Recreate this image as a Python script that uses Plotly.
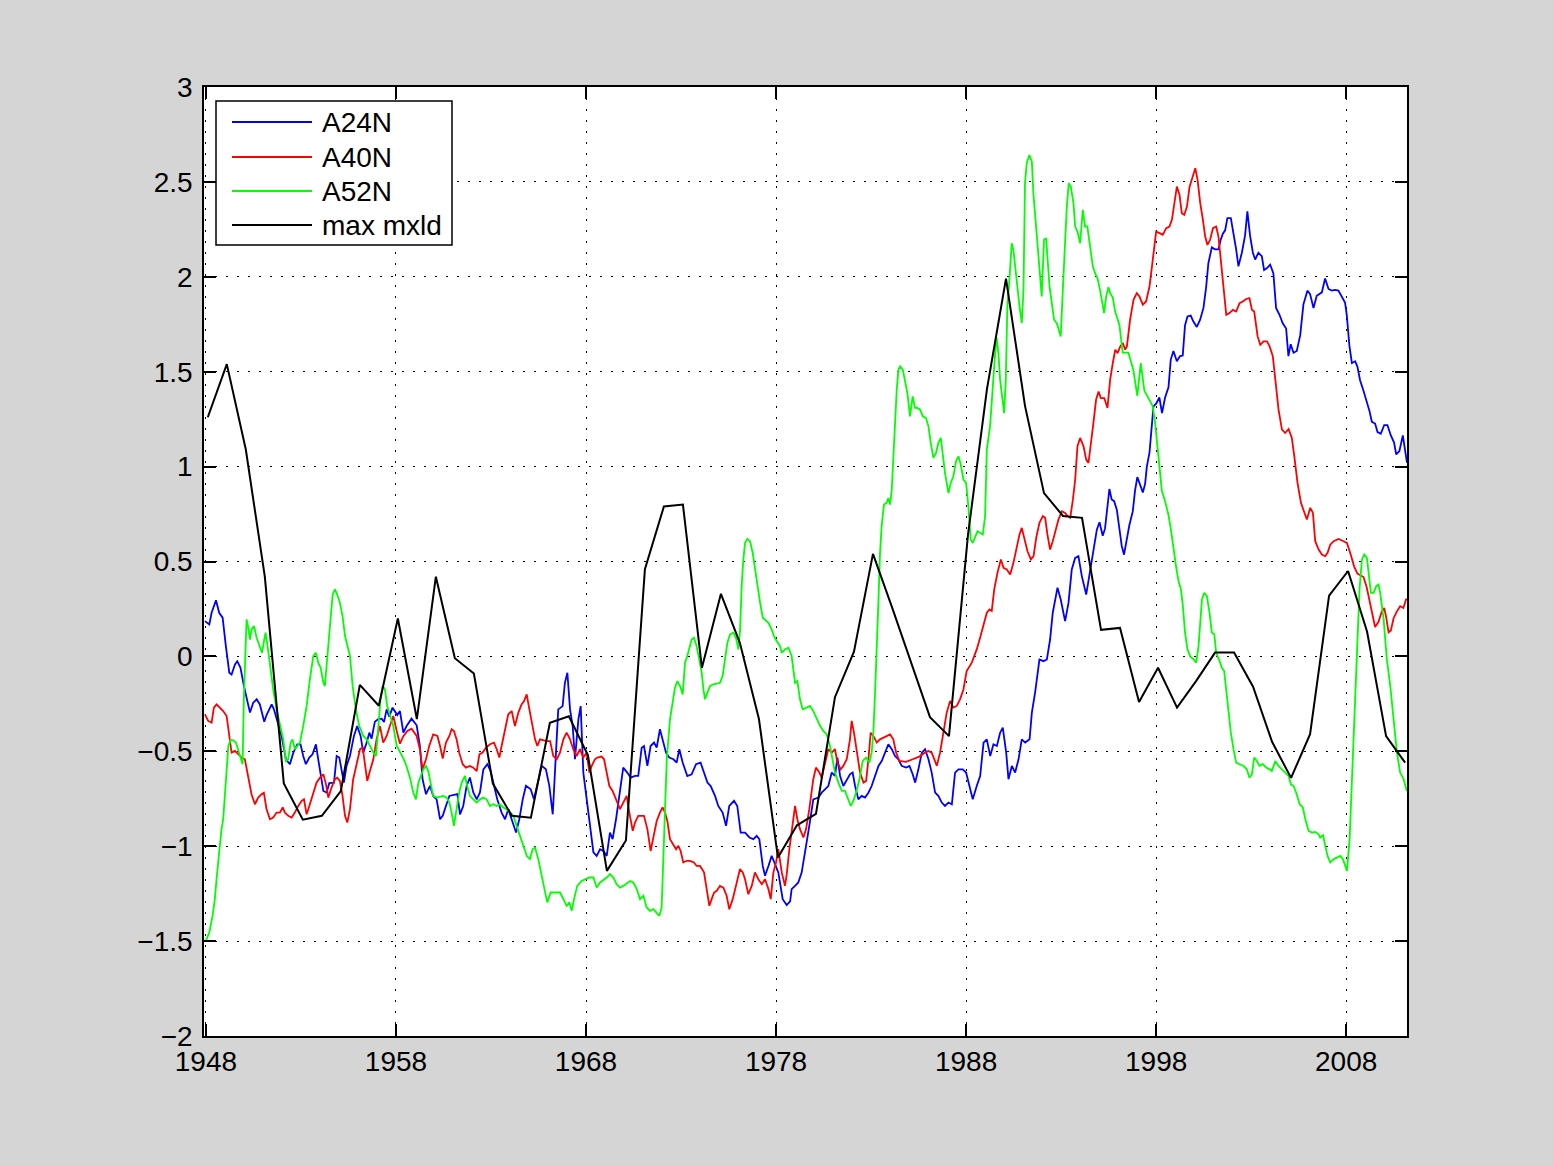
import plotly.graph_objects as go

# ---------------- data ----------------
a24n_year = [1947.95, 1948.18, 1948.30, 1948.53, 1948.70, 1948.88, 1949.05, 1949.23, 1949.35, 1949.53,
             1949.65, 1949.82, 1950.00, 1950.14, 1950.32, 1950.49, 1950.67, 1950.84, 1951.07, 1951.19,
             1951.46, 1951.58, 1951.72, 1951.98, 1952.21, 1952.42, 1952.60, 1952.81, 1952.98, 1953.12,
             1953.26, 1953.44, 1953.61, 1953.79, 1953.91, 1954.04, 1954.18, 1954.35, 1954.49, 1954.74,
             1954.88, 1955.02, 1955.14, 1955.26, 1955.40, 1955.58, 1955.79, 1955.96, 1956.14, 1956.28,
             1956.46, 1956.60, 1956.72, 1956.89, 1957.07, 1957.25, 1957.37, 1957.51, 1957.65, 1957.82,
             1958.07, 1958.21, 1958.39, 1958.56, 1958.82, 1959.09, 1959.26, 1959.40, 1959.58, 1959.79,
             1959.96, 1960.14, 1960.32, 1960.46, 1960.63, 1960.81, 1961.23, 1961.37, 1961.54, 1961.72,
             1961.89, 1962.07, 1962.25, 1962.42, 1962.60, 1962.81, 1962.98, 1963.16, 1963.33, 1963.56,
             1963.74, 1963.91, 1964.09, 1964.32, 1964.49, 1964.67, 1964.84, 1965.09, 1965.26, 1965.44,
             1965.67, 1965.89, 1966.07, 1966.25, 1966.37, 1966.54, 1966.77, 1966.89, 1967.02, 1967.16,
             1967.30, 1967.42, 1967.60, 1967.72, 1967.86, 1968.03, 1968.21, 1968.39, 1968.56, 1968.74,
             1968.91, 1969.09, 1969.26, 1969.40, 1969.58, 1969.79, 1969.96, 1970.17, 1970.35, 1970.58,
             1970.75, 1970.93, 1971.05, 1971.23, 1971.40, 1971.58, 1971.72, 1971.89, 1972.03, 1972.21,
             1972.38, 1972.60, 1972.77, 1972.91, 1973.09, 1973.33, 1973.56, 1973.79, 1974.03, 1974.21,
             1974.39, 1974.56, 1974.79, 1974.96, 1975.19, 1975.37, 1975.54, 1975.79, 1975.96, 1976.14,
             1976.37, 1976.60, 1976.81, 1976.98, 1977.12, 1977.30, 1977.42, 1977.60, 1977.77, 1977.95,
             1978.12, 1978.35, 1978.56, 1978.74, 1978.82, 1979.00, 1979.17, 1979.35, 1979.53, 1979.75,
             1979.96, 1980.23, 1980.40, 1980.58, 1980.75, 1980.93, 1981.10, 1981.23, 1981.37, 1981.54,
             1981.72, 1981.89, 1982.03, 1982.16, 1982.33, 1982.51, 1982.68, 1982.86, 1983.03, 1983.21,
             1983.39, 1983.56, 1983.74, 1983.91, 1984.09, 1984.26, 1984.44, 1984.61, 1984.84, 1985.02,
             1985.19, 1985.32, 1985.49, 1985.67, 1985.84, 1986.02, 1986.19, 1986.37, 1986.54, 1986.72,
             1986.89, 1987.07, 1987.25, 1987.42, 1987.60, 1987.82, 1988.00, 1988.21, 1988.35, 1988.56,
             1988.74, 1988.92, 1989.09, 1989.27, 1989.44, 1989.62, 1989.79, 1989.93, 1990.11, 1990.23,
             1990.41, 1990.58, 1990.76, 1990.93, 1991.11, 1991.34, 1991.46, 1991.63, 1991.86, 1992.07,
             1992.25, 1992.42, 1992.56, 1992.81, 1992.98, 1993.21, 1993.39, 1993.56, 1993.74, 1993.91,
             1994.09, 1994.32, 1994.49, 1994.70, 1994.88, 1995.02, 1995.19, 1995.31, 1995.44, 1995.54,
             1995.66, 1995.79, 1995.93, 1996.07, 1996.19, 1996.31, 1996.45, 1996.59, 1996.77, 1996.89,
             1997.01, 1997.16, 1997.30, 1997.42, 1997.51, 1997.65, 1997.77, 1997.86, 1998.00, 1998.17,
             1998.31, 1998.47, 1998.65, 1998.77, 1998.91, 1999.09, 1999.26, 1999.40, 1999.52, 1999.65,
             1999.82, 1999.96, 2000.14, 2000.31, 2000.49, 2000.63, 2000.75, 2000.93, 2001.10, 2001.28,
             2001.40, 2001.51, 2001.63, 2001.75, 2001.93, 2002.07, 2002.21, 2002.33, 2002.51, 2002.68,
             2002.80, 2002.94, 2003.09, 2003.21, 2003.38, 2003.56, 2003.68, 2003.82, 2004.00, 2004.17,
             2004.31, 2004.49, 2004.66, 2004.84, 2004.96, 2005.08, 2005.23, 2005.40, 2005.58, 2005.75,
             2005.96, 2006.10, 2006.28, 2006.45, 2006.72, 2006.89, 2007.07, 2007.24, 2007.42, 2007.59,
             2007.77, 2007.94, 2008.03, 2008.17, 2008.30, 2008.47, 2008.59, 2008.73, 2008.91, 2009.08,
             2009.23, 2009.35, 2009.52, 2009.65, 2009.82, 2010.00, 2010.17, 2010.35, 2010.52, 2010.63,
             2010.80, 2010.98, 2011.15, 2011.20]
a24n_val = [0.186, 0.168, 0.23, 0.296, 0.23, 0.204, 0.054, -0.086, -0.095, -0.042,
            -0.025, -0.06, -0.156, -0.217, -0.296, -0.244, -0.226, -0.253, -0.344, -0.309,
            -0.253, -0.279, -0.332, -0.419, -0.542, -0.568, -0.507, -0.463, -0.463, -0.525,
            -0.568, -0.533, -0.516, -0.463, -0.542, -0.612, -0.709, -0.717, -0.668, -0.665,
            -0.525, -0.533, -0.612, -0.665, -0.577, -0.525, -0.419, -0.367, -0.419, -0.507,
            -0.454, -0.402, -0.433, -0.344, -0.33, -0.328, -0.346, -0.279, -0.317, -0.27,
            -0.309, -0.288, -0.402, -0.367, -0.328, -0.363, -0.472, -0.647, -0.726, -0.682,
            -0.735, -0.753, -0.858, -0.84, -0.788, -0.735, -0.726, -0.832, -0.788, -0.682,
            -0.638, -0.717, -0.753, -0.717, -0.595, -0.568, -0.604, -0.682, -0.753, -0.823,
            -0.858, -0.805, -0.858, -0.928, -0.858, -0.753, -0.682, -0.70, -0.753, -0.682,
            -0.577, -0.595, -0.682, -0.832, -0.63, -0.279, -0.262, -0.139, -0.086, -0.279,
            -0.367, -0.542, -0.332, -0.262, -0.612, -0.753, -0.88, -1.033, -1.051, -1.016,
            -1.025, -1.051, -0.928, -0.963, -0.858, -0.718, -0.586, -0.612, -0.639, -0.63,
            -0.63, -0.481, -0.472, -0.577, -0.472, -0.454, -0.481, -0.384, -0.437, -0.507,
            -0.533, -0.542, -0.56, -0.489, -0.56, -0.63, -0.621, -0.568, -0.56, -0.612,
            -0.665, -0.683, -0.735, -0.788, -0.823, -0.893, -0.788, -0.761, -0.788, -0.928,
            -0.928, -0.954, -0.963, -0.946, -0.963, -1.104, -1.156, -1.104, -1.051, -1.095,
            -1.138, -1.279, -1.31, -1.29, -1.226, -1.209, -1.191, -1.138, -1.016, -0.893,
            -0.753, -0.744, -0.718, -0.70, -0.683, -0.612, -0.63, -0.533, -0.63, -0.683,
            -0.647, -0.621, -0.612, -0.683, -0.753, -0.735, -0.744, -0.718, -0.683, -0.63,
            -0.577, -0.551, -0.507, -0.463, -0.489, -0.525, -0.542, -0.577, -0.586, -0.577,
            -0.621, -0.665, -0.595, -0.507, -0.489, -0.542, -0.612, -0.718, -0.735, -0.77,
            -0.788, -0.77, -0.779, -0.612, -0.595, -0.595, -0.612, -0.70, -0.753, -0.683,
            -0.63, -0.454, -0.437, -0.525, -0.463, -0.472, -0.402, -0.375, -0.507, -0.647,
            -0.577, -0.612, -0.542, -0.437, -0.454, -0.437, -0.296, -0.191, -0.016, -0.025,
            -0.016, 0.089, 0.23, 0.362, 0.30, 0.186, 0.283, 0.458, 0.519, 0.528,
            0.423, 0.326, 0.423, 0.554, 0.668, 0.707, 0.636, 0.673, 0.80, 0.882,
            0.827, 0.818, 0.773, 0.673, 0.582, 0.536, 0.618, 0.691, 0.764, 0.873,
            0.945, 0.90, 0.864, 0.909, 1.0, 1.073, 1.218, 1.318, 1.331, 1.364,
            1.282, 1.364, 1.418, 1.564, 1.609, 1.555, 1.582, 1.585, 1.745, 1.791,
            1.796, 1.764, 1.736, 1.773, 1.836, 1.945, 2.073, 2.155, 2.145, 2.145,
            2.196, 2.227, 2.245, 2.309, 2.309, 2.236, 2.145, 2.055, 2.127, 2.218,
            2.345, 2.218, 2.127, 2.091, 2.127, 2.109, 2.036, 2.045, 2.064, 2.018,
            1.836, 1.80, 1.755, 1.727, 1.582, 1.645, 1.60, 1.609, 1.691, 1.855,
            1.927, 1.909, 1.836, 1.90, 1.918, 1.991, 1.936, 1.927, 1.931, 1.927,
            1.891, 1.864, 1.80, 1.636, 1.545, 1.555, 1.527, 1.455, 1.40, 1.345,
            1.291, 1.236, 1.227, 1.182, 1.173, 1.218, 1.218, 1.164, 1.127, 1.064,
            1.082, 1.164, 1.036, 1.02]

a40n_year = [1947.95, 1948.12, 1948.30, 1948.42, 1948.56, 1948.74, 1948.91, 1949.09, 1949.23, 1949.35,
             1949.53, 1949.70, 1949.88, 1950.05, 1950.23, 1950.40, 1950.58, 1950.75, 1950.93, 1951.05,
             1951.19, 1951.37, 1951.54, 1951.72, 1951.89, 1952.04, 1952.16, 1952.33, 1952.51, 1952.68,
             1952.86, 1953.04, 1953.16, 1953.30, 1953.47, 1953.65, 1953.82, 1954.00, 1954.18, 1954.32,
             1954.44, 1954.61, 1954.79, 1954.91, 1955.05, 1955.19, 1955.32, 1955.44, 1955.58, 1955.75,
             1955.93, 1956.11, 1956.25, 1956.37, 1956.49, 1956.63, 1956.81, 1956.98, 1957.16, 1957.33,
             1957.51, 1957.68, 1957.86, 1958.04, 1958.21, 1958.39, 1958.60, 1958.82, 1959.09, 1959.26,
             1959.40, 1959.58, 1959.75, 1959.96, 1960.18, 1960.32, 1960.46, 1960.63, 1960.81, 1960.93,
             1961.05, 1961.19, 1961.33, 1961.51, 1961.68, 1961.89, 1962.07, 1962.25, 1962.39, 1962.56,
             1962.74, 1962.95, 1963.16, 1963.30, 1963.44, 1963.56, 1963.74, 1963.91, 1964.09, 1964.26,
             1964.44, 1964.61, 1964.74, 1964.88, 1965.02, 1965.19, 1965.32, 1965.44, 1965.58, 1965.93,
             1966.11, 1966.28, 1966.46, 1966.63, 1966.81, 1966.98, 1967.16, 1967.33, 1967.51, 1967.68,
             1967.86, 1968.03, 1968.18, 1968.30, 1968.47, 1968.60, 1968.82, 1968.95, 1969.09, 1969.23,
             1969.40, 1969.58, 1969.79, 1969.96, 1970.14, 1970.28, 1970.46, 1970.58, 1970.75, 1971.05,
             1971.23, 1971.40, 1971.54, 1971.72, 1971.89, 1972.03, 1972.16, 1972.28, 1972.42, 1972.60,
             1972.74, 1972.86, 1972.98, 1973.12, 1973.30, 1973.47, 1973.68, 1973.82, 1974.00, 1974.21,
             1974.35, 1974.49, 1974.61, 1974.74, 1974.88, 1975.05, 1975.23, 1975.40, 1975.54, 1975.72,
             1975.89, 1976.10, 1976.25, 1976.37, 1976.54, 1976.72, 1976.89, 1977.07, 1977.25, 1977.42,
             1977.60, 1977.72, 1977.86, 1978.00, 1978.12, 1978.30, 1978.47, 1978.56, 1978.70, 1978.82,
             1979.00, 1979.12, 1979.26, 1979.44, 1979.58, 1979.75, 1979.96, 1980.10, 1980.28, 1980.40,
             1980.58, 1980.75, 1980.93, 1981.10, 1981.23, 1981.40, 1981.54, 1981.72, 1981.89, 1981.98,
             1982.10, 1982.25, 1982.42, 1982.60, 1982.74, 1982.86, 1982.98, 1983.12, 1983.30, 1983.47,
             1983.82, 1984.00, 1984.17, 1984.32, 1984.49, 1984.84, 1985.19, 1985.54, 1985.84, 1986.02,
             1986.19, 1986.32, 1986.46, 1986.63, 1986.81, 1986.98, 1987.16, 1987.33, 1987.51, 1987.68,
             1987.86, 1988.03, 1988.30, 1988.56, 1988.74, 1988.92, 1989.09, 1989.23, 1989.35, 1989.48,
             1989.65, 1989.83, 1989.97, 1990.14, 1990.32, 1990.49, 1990.67, 1990.81, 1990.93, 1991.06,
             1991.23, 1991.41, 1991.55, 1991.69, 1991.86, 1992.04, 1992.16, 1992.28, 1992.42, 1992.56,
             1992.74, 1992.86, 1993.04, 1993.21, 1993.34, 1993.48, 1993.62, 1993.74, 1993.86, 1994.00,
             1994.18, 1994.32, 1994.44, 1994.56, 1994.70, 1994.84, 1994.97, 1995.09, 1995.27, 1995.44,
             1995.58, 1995.72, 1995.85, 1995.97, 1996.11, 1996.25, 1996.37, 1996.46, 1996.63, 1996.81,
             1996.98, 1997.12, 1997.30, 1997.47, 1997.65, 1997.77, 1997.90, 1998.00, 1998.18, 1998.35,
             1998.53, 1998.70, 1998.83, 1998.95, 1999.09, 1999.23, 1999.35, 1999.48, 1999.62, 1999.76,
             1999.93, 2000.06, 2000.18, 2000.32, 2000.46, 2000.58, 2000.70, 2000.84, 2000.99, 2001.16,
             2001.28, 2001.41, 2001.55, 2001.69, 2001.86, 2002.04, 2002.21, 2002.39, 2002.56, 2002.74,
             2002.91, 2003.04, 2003.16, 2003.34, 2003.48, 2003.65, 2003.83, 2003.97, 2004.14, 2004.27,
             2004.44, 2004.62, 2004.79, 2004.97, 2005.14, 2005.27, 2005.44, 2005.62, 2005.79, 2005.93,
             2006.11, 2006.25, 2006.37, 2006.55, 2006.72, 2006.90, 2007.02, 2007.16, 2007.34, 2007.60,
             2007.86, 2008.04, 2008.24, 2008.42, 2008.59, 2008.91, 2009.08, 2009.26, 2009.40, 2009.52,
             2009.70, 2009.87, 2010.00, 2010.10, 2010.23, 2010.35, 2010.49, 2010.66, 2010.84, 2011.01,
             2011.15, 2011.20]
a40n_val = [-0.305, -0.34, -0.349, -0.27, -0.253, -0.27, -0.288, -0.314, -0.419, -0.507,
            -0.498, -0.516, -0.533, -0.542, -0.63, -0.726, -0.779, -0.744, -0.726, -0.718,
            -0.805, -0.858, -0.849, -0.823, -0.823, -0.796, -0.823, -0.84, -0.849, -0.823,
            -0.788, -0.761, -0.753, -0.832, -0.779, -0.718, -0.665, -0.639, -0.621, -0.674,
            -0.744, -0.691, -0.647, -0.639, -0.656, -0.735, -0.84, -0.875, -0.805, -0.647,
            -0.56, -0.489, -0.481, -0.577, -0.656, -0.604, -0.542, -0.437, -0.367, -0.454,
            -0.419, -0.367, -0.314, -0.393, -0.46, -0.42, -0.393, -0.381, -0.419, -0.489,
            -0.595, -0.542, -0.472, -0.411, -0.419, -0.472, -0.538, -0.454, -0.419, -0.384,
            -0.393, -0.437, -0.507, -0.568, -0.586, -0.577, -0.586, -0.604, -0.516, -0.507,
            -0.481, -0.463, -0.454, -0.489, -0.533, -0.472, -0.384, -0.305, -0.288, -0.367,
            -0.296, -0.253, -0.235, -0.20, -0.279, -0.367, -0.437, -0.472, -0.437, -0.446,
            -0.446, -0.525, -0.542, -0.507, -0.437, -0.402, -0.437, -0.489, -0.525, -0.489,
            -0.533, -0.507, -0.612, -0.577, -0.542, -0.533, -0.528, -0.542, -0.612, -0.683,
            -0.709, -0.753, -0.805, -0.77, -0.735, -0.823, -0.919, -0.875, -0.84, -0.84,
            -0.91, -1.025, -0.963, -0.867, -0.823, -0.796, -0.823, -0.867, -0.963, -0.989,
            -1.016, -0.998, -1.025, -1.086, -1.077, -1.077, -1.086, -1.104, -1.104, -1.138,
            -1.226, -1.314, -1.279, -1.244, -1.235, -1.209, -1.218, -1.261, -1.332, -1.279,
            -1.209, -1.121, -1.138, -1.174, -1.253, -1.209, -1.138, -1.174, -1.20, -1.174,
            -1.226, -1.279, -1.138, -1.086, -1.016, -1.138, -1.209, -1.15, -1.016, -0.928,
            -0.788, -0.858, -0.91, -0.954, -0.91, -0.805, -0.647, -0.586, -0.612, -0.639,
            -0.56, -0.489, -0.507, -0.489, -0.56, -0.595, -0.577, -0.542, -0.437, -0.34,
            -0.402, -0.507, -0.612, -0.665, -0.656, -0.542, -0.402, -0.419, -0.454, -0.437,
            -0.419, -0.411, -0.437, -0.507, -0.551, -0.556, -0.542, -0.528, -0.507, -0.498,
            -0.507, -0.542, -0.577, -0.507, -0.402, -0.296, -0.235, -0.27, -0.261, -0.226,
            -0.174, -0.077, -0.033, 0.037, 0.10, 0.16, 0.23, 0.247, 0.239, 0.353,
            0.44, 0.511, 0.467, 0.458, 0.432, 0.493, 0.581, 0.642, 0.677, 0.616,
            0.554, 0.511, 0.528, 0.625, 0.704, 0.739, 0.73, 0.642, 0.563, 0.607,
            0.686, 0.721, 0.765, 0.756, 0.739, 0.73, 0.826, 0.932, 1.107, 1.151,
            1.107, 1.037, 1.019, 1.107, 1.23, 1.353, 1.396, 1.361, 1.361, 1.309,
            1.458, 1.546, 1.616, 1.598, 1.633, 1.651, 1.616, 1.633, 1.774, 1.879,
            1.914, 1.896, 1.853, 1.87, 1.949, 2.046, 2.177, 2.238, 2.23, 2.221,
            2.256, 2.265, 2.30, 2.37, 2.475, 2.432, 2.335, 2.326, 2.37, 2.475,
            2.537, 2.572, 2.511, 2.388, 2.30, 2.212, 2.168, 2.195, 2.256, 2.265,
            2.212, 2.072, 1.914, 1.80, 1.809, 1.826, 1.817, 1.861, 1.87, 1.883,
            1.888, 1.826, 1.817, 1.686, 1.642, 1.66, 1.66, 1.633, 1.581, 1.458,
            1.30, 1.195, 1.177, 1.198, 1.151, 1.054, 0.914, 0.809, 0.756, 0.721,
            0.783, 0.756, 0.607, 0.563, 0.537, 0.528, 0.546, 0.589, 0.607, 0.619,
            0.607, 0.598, 0.536, 0.473, 0.436, 0.418, 0.364, 0.273, 0.20, 0.155,
            0.182, 0.236, 0.255, 0.209, 0.127, 0.136, 0.20, 0.236, 0.264, 0.255,
            0.30, 0.30]

a52n_year = [1948.00, 1948.18, 1948.35, 1948.47, 1948.56, 1948.65, 1948.74, 1948.82, 1948.91, 1949.00,
             1949.09, 1949.18, 1949.30, 1949.44, 1949.58, 1949.70, 1949.82, 1949.93, 1950.00, 1950.07,
             1950.14, 1950.23, 1950.32, 1950.40, 1950.53, 1950.67, 1950.81, 1950.95, 1951.07, 1951.14,
             1951.28, 1951.40, 1951.54, 1951.72, 1951.89, 1952.07, 1952.21, 1952.33, 1952.46, 1952.56,
             1952.68, 1952.81, 1952.95, 1953.12, 1953.30, 1953.47, 1953.65, 1953.79, 1953.91, 1954.04,
             1954.18, 1954.26, 1954.39, 1954.53, 1954.67, 1954.79, 1954.91, 1955.05, 1955.19, 1955.32,
             1955.44, 1955.58, 1955.72, 1955.89, 1956.07, 1956.28, 1956.46, 1956.63, 1956.81, 1956.95,
             1957.07, 1957.19, 1957.30, 1957.42, 1957.54, 1957.68, 1957.86, 1958.04, 1958.21, 1958.39,
             1958.56, 1958.74, 1958.91, 1959.05, 1959.18, 1959.30, 1959.44, 1959.58, 1959.70, 1959.82,
             1959.96, 1960.14, 1960.49, 1960.67, 1960.81, 1960.93, 1961.05, 1961.19, 1961.33, 1961.46,
             1961.63, 1961.75, 1961.89, 1962.07, 1962.25, 1962.42, 1962.60, 1962.77, 1962.95, 1963.12,
             1963.30, 1963.47, 1963.65, 1963.82, 1964.00, 1964.18, 1964.35, 1964.53, 1964.70, 1964.88,
             1965.05, 1965.19, 1965.32, 1965.49, 1965.67, 1965.84, 1965.96, 1966.14, 1966.37, 1966.63,
             1966.81, 1966.98, 1967.12, 1967.25, 1967.37, 1967.54, 1967.77, 1968.00, 1968.18, 1968.39,
             1968.56, 1968.74, 1969.09, 1969.26, 1969.44, 1969.61, 1969.79, 1969.96, 1970.32, 1970.49,
             1970.67, 1970.84, 1971.02, 1971.19, 1971.37, 1971.54, 1971.72, 1971.86, 1971.98, 1972.07,
             1972.16, 1972.25, 1972.42, 1972.56, 1972.68, 1972.81, 1972.95, 1973.09, 1973.21, 1973.33,
             1973.47, 1973.56, 1973.68, 1973.82, 1973.96, 1974.09, 1974.18, 1974.26, 1974.39, 1974.53,
             1974.70, 1975.05, 1975.19, 1975.32, 1975.44, 1975.58, 1975.75, 1975.89, 1976.02, 1976.11,
             1976.19, 1976.28, 1976.37, 1976.49, 1976.63, 1976.77, 1976.89, 1977.02, 1977.16, 1977.30,
             1977.42, 1977.60, 1977.77, 1977.89, 1978.03, 1978.21, 1978.30, 1978.47, 1978.65, 1978.82,
             1979.00, 1979.12, 1979.26, 1979.40, 1979.61, 1979.79, 1979.96, 1980.14, 1980.32, 1980.49,
             1980.67, 1980.84, 1980.98, 1981.10, 1981.28, 1981.46, 1981.63, 1981.81, 1981.93, 1982.07,
             1982.21, 1982.39, 1982.56, 1982.74, 1982.91, 1983.03, 1983.12, 1983.21, 1983.30, 1983.39,
             1983.47, 1983.56, 1983.68, 1983.82, 1983.91, 1984.00, 1984.09, 1984.17, 1984.26, 1984.35,
             1984.44, 1984.53, 1984.67, 1984.79, 1984.91, 1985.05, 1985.19, 1985.31, 1985.44, 1985.58,
             1985.72, 1985.89, 1986.02, 1986.14, 1986.28, 1986.42, 1986.54, 1986.67, 1986.77, 1986.89,
             1987.07, 1987.19, 1987.33, 1987.47, 1987.60, 1987.72, 1987.86, 1988.00, 1988.12, 1988.24,
             1988.35, 1988.47, 1988.60, 1988.74, 1988.88, 1989.00, 1989.09, 1989.26, 1989.40, 1989.53,
             1989.61, 1989.70, 1989.79, 1989.93, 1990.00, 1990.09, 1990.17, 1990.28, 1990.40, 1990.49,
             1990.58, 1990.67, 1990.81, 1990.93, 1991.02, 1991.10, 1991.19, 1991.33, 1991.46, 1991.54,
             1991.68, 1991.81, 1991.98, 1992.10, 1992.21, 1992.28, 1992.39, 1992.51, 1992.63, 1992.77,
             1992.91, 1992.98, 1993.09, 1993.21, 1993.30, 1993.40, 1993.51, 1993.65, 1993.74, 1993.86,
             1994.00, 1994.14, 1994.26, 1994.38, 1994.53, 1994.67, 1994.79, 1994.91, 1995.05, 1995.19,
             1995.26, 1995.37, 1995.49, 1995.58, 1995.72, 1995.84, 1996.07, 1996.24, 1996.54, 1996.80,
             1997.01, 1997.19, 1997.38, 1997.68, 1997.82, 1997.94, 1998.07, 1998.17, 1998.30, 1998.47,
             1998.65, 1998.77, 1998.91, 1999.05, 1999.17, 1999.30, 1999.40, 1999.52, 1999.65, 1999.79,
             1999.97, 2000.11, 2000.23, 2000.32, 2000.41, 2000.53, 2000.67, 2000.81, 2000.93, 2001.06,
             2001.16, 2001.34, 2001.46, 2001.58, 2001.69, 2001.81, 2001.93, 2002.07, 2002.21, 2002.39,
             2002.60, 2002.77, 2002.91, 2003.04, 2003.16, 2003.30, 2003.44, 2003.62, 2003.79, 2003.97,
             2004.09, 2004.27, 2004.44, 2004.62, 2004.79, 2004.97, 2005.09, 2005.23, 2005.37, 2005.55,
             2005.72, 2005.85, 2006.02, 2006.20, 2006.37, 2006.55, 2006.63, 2006.78, 2006.90, 2007.02,
             2007.16, 2007.34, 2007.51, 2007.69, 2007.83, 2007.95, 2008.04, 2008.18, 2008.30, 2008.42,
             2008.56, 2008.70, 2008.83, 2008.95, 2009.09, 2009.18, 2009.30, 2009.44, 2009.58, 2009.70,
             2009.79, 2009.97, 2010.14, 2010.32, 2010.49, 2010.67, 2010.84, 2011.02, 2011.19]
a52n_val = [-1.498, -1.454, -1.367, -1.279, -1.174, -1.086, -0.98, -0.911, -0.858, -0.735,
            -0.577, -0.472, -0.44, -0.442, -0.454, -0.489, -0.525, -0.568, -0.209, 0.054,
            0.195, 0.151, 0.089, 0.142, 0.16, 0.098, 0.054, 0.019, 0.089, 0.125,
            0.028, -0.068, -0.174, -0.279, -0.349, -0.437, -0.551, -0.542, -0.454, -0.437,
            -0.489, -0.472, -0.454, -0.367, -0.261, -0.121, 0.002, 0.019, -0.033, -0.06,
            -0.139, -0.156, 0.002, 0.195, 0.326, 0.353, 0.326, 0.283, 0.212, 0.107,
            0.054, 0.002, -0.156, -0.279, -0.367, -0.419, -0.437, -0.472, -0.507, -0.525,
            -0.349, -0.226, -0.156, -0.174, -0.261, -0.314, -0.367, -0.472, -0.50, -0.537,
            -0.58, -0.64, -0.717, -0.753, -0.665, -0.63, -0.595, -0.577, -0.604, -0.665,
            -0.735, -0.744, -0.735, -0.744, -0.77, -0.823, -0.893, -0.805, -0.717, -0.665,
            -0.63, -0.683, -0.735, -0.753, -0.77, -0.753, -0.744, -0.753, -0.788, -0.779,
            -0.788, -0.779, -0.796, -0.805, -0.823, -0.84, -0.893, -0.946, -1.007, -1.051,
            -1.068, -1.016, -1.007, -1.068, -1.156, -1.244, -1.296, -1.244, -1.244, -1.244,
            -1.279, -1.314, -1.296, -1.34, -1.279, -1.209, -1.183, -1.174, -1.165, -1.165,
            -1.218, -1.191, -1.165, -1.147, -1.165, -1.20, -1.218, -1.209, -1.183, -1.191,
            -1.226, -1.279, -1.261, -1.323, -1.341, -1.332, -1.349, -1.367, -1.323, -1.033,
            -0.77, -0.542, -0.332, -0.226, -0.165, -0.13, -0.156, -0.20, -0.033, 0.002,
            0.054, 0.089, 0.098, 0.054, -0.016, -0.086, -0.174, -0.226, -0.191, -0.156,
            -0.147, -0.139, -0.103, -0.016, 0.072, 0.116, 0.125, 0.098, 0.037, 0.142,
            0.37, 0.511, 0.598, 0.619, 0.607, 0.546, 0.458, 0.37, 0.283, 0.204,
            0.195, 0.177, 0.142, 0.107, 0.081, 0.054, 0.019, 0.037, 0.046, 0.002,
            -0.139, -0.13, -0.226, -0.279, -0.27, -0.261, -0.288, -0.332, -0.367, -0.393,
            -0.411, -0.472, -0.542, -0.612, -0.665, -0.709, -0.709, -0.753, -0.788, -0.761,
            -0.718, -0.647, -0.551, -0.533, -0.56, -0.507, -0.402, -0.191, 0.02, 0.30,
            0.54, 0.69, 0.80, 0.809, 0.835, 0.80, 0.879, 1.054, 1.23, 1.405,
            1.511, 1.528, 1.511, 1.458, 1.388, 1.265, 1.37, 1.309, 1.309, 1.30,
            1.265, 1.256, 1.212, 1.125, 1.046, 1.072, 1.125, 1.151, 1.072, 0.967,
            0.861, 0.914, 0.949, 1.028, 1.054, 1.011, 0.932, 0.914, 0.791, 0.616,
            0.598, 0.633, 0.659, 0.651, 0.642, 0.739, 1.089, 1.212, 1.423, 1.598,
            1.677, 1.598, 1.458, 1.335, 1.282, 1.458, 1.844, 1.984, 2.177, 2.142,
            2.054, 1.967, 1.844, 1.756, 1.932, 2.493, 2.598, 2.642, 2.607, 2.44,
            2.282, 2.107, 1.896, 2.195, 2.204, 2.089, 1.949, 1.861, 1.774, 1.756,
            1.704, 1.686, 1.932, 2.23, 2.37, 2.493, 2.475, 2.388, 2.265, 2.238,
            2.177, 2.353, 2.265, 2.265, 2.16, 2.054, 2.019, 1.993, 1.93, 1.861,
            1.809, 1.896, 1.945, 1.914, 1.891, 1.818, 1.745, 1.60, 1.60, 1.509,
            1.373, 1.545, 1.40, 1.345, 1.318, 1.236, 1.091, 0.982, 0.873, 0.818,
            0.745, 0.673, 0.564, 0.473, 0.40, 0.355, 0.273, 0.127, 0.036, 0.0,
            -0.016, -0.033, 0.054, 0.195, 0.30, 0.335, 0.317, 0.23, 0.125, 0.116,
            0.019, -0.025, -0.06, -0.077, -0.174, -0.296, -0.402, -0.489, -0.56, -0.568,
            -0.577, -0.595, -0.639, -0.621, -0.533, -0.551, -0.577, -0.568, -0.586, -0.595,
            -0.604, -0.551, -0.577, -0.595, -0.612, -0.63, -0.674, -0.683, -0.718, -0.779,
            -0.796, -0.858, -0.919, -0.928, -0.925, -0.937, -0.954, -0.942, -0.998, -1.051,
            -1.086, -1.068, -1.06, -1.051, -1.068, -1.104, -1.13, -0.963, -0.647, -0.296,
            0.054, 0.353, 0.511, 0.537, 0.519, 0.44, 0.335, 0.335, 0.37, 0.379,
            0.335, 0.195, -0.016, -0.156, -0.332, -0.507, -0.612, -0.647, -0.709]

mxld_year = [y + 0.1 for y in range(1948, 2012)]
mxld_val = [1.26, 1.54, 1.09, 0.42, -0.67, -0.86, -0.84, -0.71, -0.15, -0.26,
            0.20, -0.33, 0.42, -0.01, -0.09, -0.67, -0.84, -0.85, -0.35, -0.315,
            -0.52, -1.13, -0.97, 0.46, 0.79, 0.80, -0.06, 0.33, 0.07, -0.33,
            -1.06, -0.89, -0.83, -0.215, 0.025, 0.54, 0.26, -0.03, -0.32, -0.42,
            0.64, 1.41, 1.99, 1.32, 0.86, 0.74, 0.73, 0.14, 0.15, -0.24,
            -0.06, -0.27, -0.13, 0.02, 0.02, -0.16, -0.45, -0.64, -0.41, 0.32,
            0.45, 0.13, -0.42, -0.56]

series_names = ["A24N", "A40N", "A52N", "max mxld"]
series_colors = ["#0000ff", "#ff0000", "#00ff00", "#000000"]
x_ticks = [1948, 1958, 1968, 1978, 1988, 1998, 2008]
x_range = [1947.9, 2011.2]
y_range = [-2, 3]

# ---------------- figure ----------------
W, H = 1553, 1166
L, R, T, B = 204, 1407, 87, 1036      # plot area in pixels
FONT = "Liberation Sans, Arial, Helvetica, sans-serif"
FS = 28

fig = go.Figure()
for xs, ys, name, col, w in [
    (a24n_year, a24n_val, series_names[0], series_colors[0], 1.8),
    (a40n_year, a40n_val, series_names[1], series_colors[1], 1.8),
    (a52n_year, a52n_val, series_names[2], series_colors[2], 1.8),
    (mxld_year, mxld_val, series_names[3], series_colors[3], 2.0),
]:
    fig.add_trace(go.Scatter(x=xs, y=ys, mode="lines", name=name,
                             line=dict(color=col, width=w), showlegend=False,
                             hoverinfo="skip"))

axis_common = dict(
    showline=True, linecolor="black", linewidth=1.5, mirror="ticks",
    ticks="inside", ticklen=12, tickwidth=1.5, tickcolor="black",
    showgrid=True, gridcolor="black", gridwidth=1, griddash="2px,9px",
    zeroline=False, tickfont=dict(family=FONT, size=FS, color="black"),
)
fig.update_xaxes(range=x_range, tickmode="array", tickvals=x_ticks,
                 ticktext=[str(t) for t in x_ticks], ticklabelstandoff=0, **axis_common)
fig.update_yaxes(range=y_range, tickmode="linear", tick0=0, dtick=0.5,
                 ticklabelstandoff=4, **axis_common)


def px(xp):
    return (xp - L) / (R - L)


def py(yp):
    return (B - yp) / (B - T)


# legend drawn as a MATLAB-style box
shapes = [dict(type="rect", xref="paper", yref="paper",
               x0=px(216), x1=px(452), y0=py(245), y1=py(101),
               line=dict(color="black", width=1.5), fillcolor="white", layer="above")]
annotations = []
entry_y = [122, 157, 191, 225]
for name, col, ey in zip(series_names, series_colors, entry_y):
    shapes.append(dict(type="line", xref="paper", yref="paper",
                       x0=px(232), x1=px(312), y0=py(ey), y1=py(ey),
                       line=dict(color=col, width=1.8), layer="above"))
    annotations.append(dict(xref="paper", yref="paper", x=px(320), y=py(ey),
                            text=name, showarrow=False, xanchor="left", yanchor="middle",
                            font=dict(family=FONT, size=FS, color="black")))

fig.update_layout(
    width=W, height=H, autosize=False,
    margin=dict(l=L, r=W - R, t=T, b=H - B, pad=0),
    paper_bgcolor="#d5d5d5", plot_bgcolor="white",
    shapes=shapes, annotations=annotations, showlegend=False,
    font=dict(family=FONT, color="black"),
)

fig.write_html("out.html",
               config={"displayModeBar": False},
               post_script="document.body.style.margin='0';"
                           "document.body.style.overflow='hidden';"
                           "document.body.style.background='#d5d5d5';")
